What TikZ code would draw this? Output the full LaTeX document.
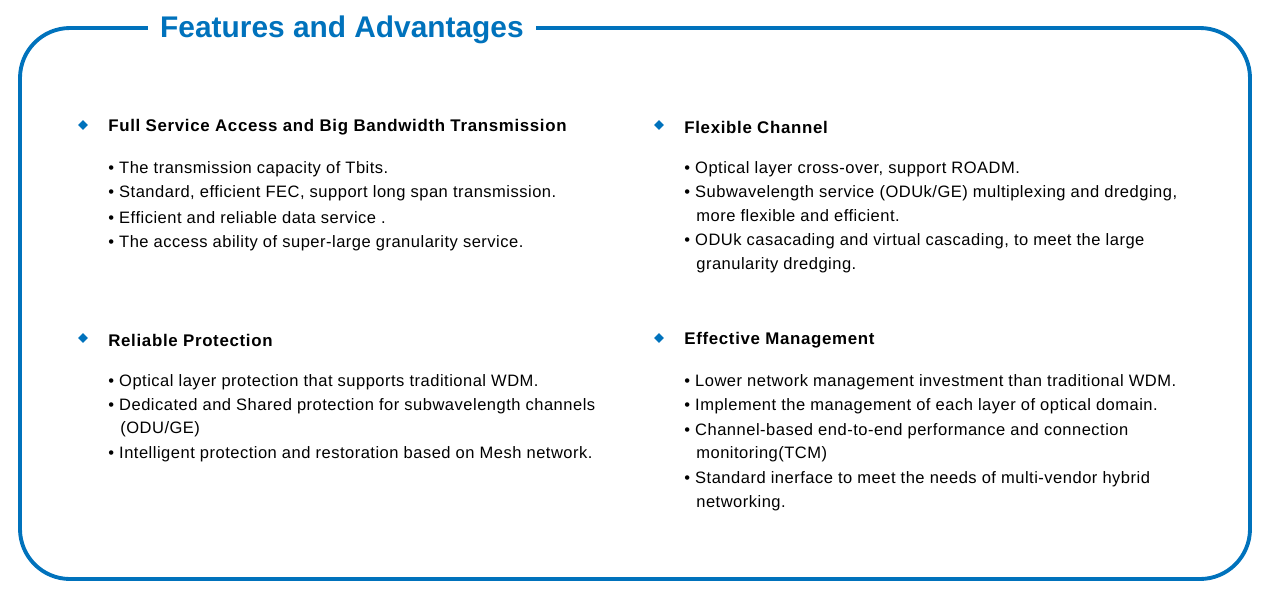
\documentclass[tikz,border=0pt]{standalone}
\usepackage{fontspec}
\setmainfont{Liberation Sans}
\definecolor{featblue}{RGB}{0,114,188}
\usetikzlibrary{shapes.geometric}
\tikzset{
  frame/.style={draw=featblue,line width=2.2pt,rounded corners=1cm},
  title/.style={fill=white,inner xsep=0.25cm,text=featblue,font=\fontsize{17}{20}\selectfont\bfseries},
  head/.style={anchor=west,inner sep=0pt,font=\fontsize{9.6}{11}\selectfont\bfseries\addfontfeature{LetterSpace=4}},
  item/.style={anchor=west,inner sep=0pt,font=\fontsize{9.4}{11}\selectfont\addfontfeature{LetterSpace=3}},
  dmark/.style={fill=featblue,diamond,minimum size=0.2cm,inner sep=0pt}
}
\begin{document}
\begin{tikzpicture}[x=0.02cm,y=-0.02cm]
\useasboundingbox (0,0) rectangle (1262,593);
\draw[frame] (20,28) rectangle (1250,579);
\node[title] (t) at (342,30) {Features and Advantages};
% left column
\node[dmark] (d1) at (83,125) {};
\node[head] (h1) at (108,127) {Full Service Access and Big Bandwidth Transmission};
\node[item] (a1) at (108,169) {• The transmission capacity of Tbits.};
\node[item] (a2) at (108,193) {• Standard, efficient FEC, support long span transmission.};
\node[item] (a3) at (108,218) {• Efficient and reliable data service .};
\node[item] (a4) at (108,243) {• The access ability of super-large granularity service.};
\node[dmark] (d3) at (83,338) {};
\node[head] (h3) at (108,340) {Reliable Protection};
\node[item] (c1) at (108,382) {• Optical layer protection that supports traditional WDM.};
\node[item] (c2) at (108,406) {• Dedicated and Shared protection for subwavelength channels};
\node[item] (c3) at (120,429) {(ODU/GE)};
\node[item] (c4) at (108,454) {• Intelligent protection and restoration based on Mesh network.};
% right column
\node[dmark] (d2) at (659,125) {};
\node[head] (h2) at (684,127) {Flexible Channel};
\node[item] (b1) at (684,169) {• Optical layer cross-over, support ROADM.};
\node[item] (b2) at (684,193) {• Subwavelength service (ODUk/GE) multiplexing and dredging,};
\node[item] (b3) at (696,216) {more flexible and efficient.};
\node[item] (b4) at (684,241) {• ODUk casacading and virtual cascading, to meet the large};
\node[item] (b5) at (696,265) {granularity dredging.};
\node[dmark] (d4) at (659,338) {};
\node[head] (h4) at (684,340) {Effective Management};
\node[item] (e1) at (684,382) {• Lower network management investment than traditional WDM.};
\node[item] (e2) at (684,406) {• Implement the management of each layer of optical domain.};
\node[item] (e3) at (684,431) {• Channel-based end-to-end performance and connection};
\node[item] (e4) at (696,454) {monitoring(TCM)};
\node[item] (e5) at (684,479) {• Standard inerface to meet the needs of multi-vendor hybrid};
\node[item] (e6) at (696,503) {networking.};
\end{tikzpicture}
\end{document}
